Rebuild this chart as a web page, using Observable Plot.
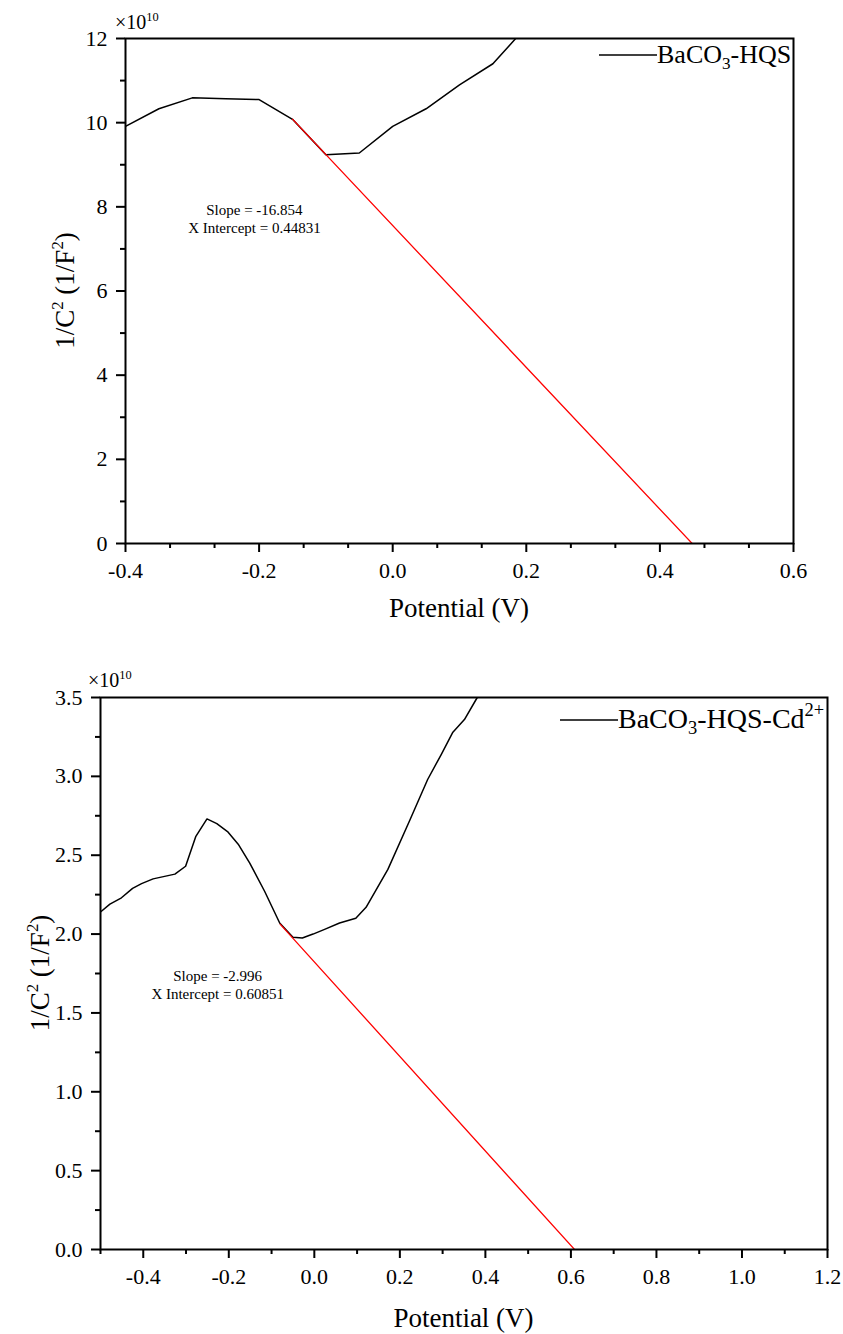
<!DOCTYPE html>
<html>
<head>
<meta charset="utf-8">
<script src="https://cdn.jsdelivr.net/npm/d3@7"></script>
<script src="https://cdn.jsdelivr.net/npm/@observablehq/plot@0.6"></script>
<style>
  html, body { margin: 0; padding: 0; background: #fff; }
  #chart svg { display: block; }
  #chart svg text { font-family: 'Liberation Serif', 'Times New Roman', Times, serif; }
</style>
</head>
<body>
<div id="chart"></div>
<script>
// ---------- Data: panel 1 (BaCO3-HQS) ----------
const potential1 = [-0.4, -0.35, -0.3, -0.25, -0.2, -0.15, -0.1, -0.05, 0.0, 0.05, 0.1, 0.15, 0.2];
const invC2_1    = [9.91, 10.33, 10.59, 10.57, 10.55, 10.08, 9.24, 9.28, 9.91, 10.33, 10.90, 11.40, 12.28];
const fit1Potential = [-0.15, 0.44831];
const fit1Value     = [10.084, 0];
const slope1 = "-16.854";
const intercept1 = "0.44831";
const legend1 = "BaCO_{3}-HQS";
const xTicks1 = [-0.4, -0.2, 0.0, 0.2, 0.4, 0.6];
const xMinor1 = [-0.3333, -0.2667, -0.1333, -0.0667, 0.0667, 0.1333, 0.2667, 0.3333, 0.4667, 0.5333];
const yTicks1 = [0, 2, 4, 6, 8, 10, 12];
const yMinor1 = [1, 3, 5, 7, 9, 11];

// ---------- Data: panel 2 (BaCO3-HQS-Cd2+) ----------
const potential2 = [-0.5, -0.478, -0.451, -0.425, -0.404, -0.377, -0.326, -0.301, -0.277, -0.251, -0.228, -0.203, -0.178, -0.151, -0.116, -0.081, -0.05, -0.028, -0.003, 0.024, 0.059, 0.097, 0.121, 0.172, 0.223, 0.265, 0.297, 0.324, 0.351, 0.381, 0.42];
const invC2_2    = [2.14, 2.19, 2.23, 2.29, 2.32, 2.35, 2.38, 2.43, 2.62, 2.73, 2.70, 2.65, 2.57, 2.45, 2.27, 2.07, 1.98, 1.975, 2.00, 2.03, 2.07, 2.10, 2.17, 2.41, 2.72, 2.98, 3.14, 3.28, 3.36, 3.50, 3.70];
const fit2Potential = [-0.08, 0.60851];
const fit2Value     = [2.063, 0];
const slope2 = "-2.996";
const intercept2 = "0.60851";
const legend2 = "BaCO_{3}-HQS-Cd^{2+}";
const xTicks2 = [-0.4, -0.2, 0.0, 0.2, 0.4, 0.6, 0.8, 1.0, 1.2];
const xMinor2 = [-0.5, -0.3, -0.1, 0.1, 0.3, 0.5, 0.7, 0.9, 1.1];
const yTicks2 = [0.0, 0.5, 1.0, 1.5, 2.0, 2.5, 3.0, 3.5];
const yMinor2 = [0.25, 0.75, 1.25, 1.75, 2.25, 2.75, 3.25];

const xTitle = "Potential (V)";
const yTitle = "1/C^{2} (1/F^{2})";
const scaleNote = "×10^{10}";

// ---------- helpers ----------
const FONT = "'Liberation Serif', 'Times New Roman', Times, serif";

function richText(sel, str, size, supScale = 0.62) {
  const re = /([_^])\{([^}]*)\}/g;
  const parts = [];
  let last = 0, m;
  while ((m = re.exec(str))) {
    if (m.index > last) parts.push({t: str.slice(last, m.index), k: 0});
    parts.push({t: m[2], k: m[1] === "^" ? 1 : -1});
    last = re.lastIndex;
  }
  if (last < str.length) parts.push({t: str.slice(last), k: 0});
  let cur = 0;
  for (const p of parts) {
    const off = p.k === 1 ? -0.42 * size : p.k === -1 ? 0.22 * size : 0;
    const ts = sel.append("tspan").text(p.t);
    if (off - cur !== 0) ts.attr("dy", off - cur);
    if (p.k) ts.attr("font-size", size * supScale);
    cur = off;
  }
}

function makeChart(cfg) {
  const curve = cfg.px.map((x, i) => ({x, y: cfg.py[i]}));
  const fit = cfg.fx.map((x, i) => ({x, y: cfg.fy[i]}));
  const annot = [{x: cfg.annot[0], y: cfg.annot[1], t: `Slope = ${cfg.slope}\nX Intercept = ${cfg.intercept}`}];
  const L = cfg.lay;
  return Plot.plot({
    width: 843,
    height: cfg.height,
    marginTop: cfg.m[0], marginRight: cfg.m[1], marginBottom: cfg.m[2], marginLeft: cfg.m[3],
    style: {fontFamily: FONT, background: "white", color: "black", overflow: "visible"},
    x: {domain: cfg.xd},
    y: {domain: cfg.yd},
    marks: [
      Plot.line(curve, {x: "x", y: "y", stroke: "black", strokeWidth: 1.5, clip: true}),
      Plot.line(fit, {x: "x", y: "y", stroke: "#ff0000", strokeWidth: 1.3, clip: true}),
      Plot.frame({stroke: "black", strokeWidth: 2}),
      Plot.axisX(cfg.xt, {tickSize: 9, tickPadding: 10, tickFormat: d => d.toFixed(1), fontSize: 22, fontFamily: FONT, strokeWidth: 2, label: null}),
      Plot.axisX(cfg.xm, {tickSize: 5, tickFormat: () => "", strokeWidth: 2, label: null}),
      Plot.axisY(cfg.yt, {tickSize: 9, tickPadding: 9, tickFormat: cfg.fy_fmt, fontSize: 22, fontFamily: FONT, strokeWidth: 2, label: null}),
      Plot.axisY(cfg.ym, {tickSize: 5, tickFormat: () => "", strokeWidth: 2, label: null}),
      Plot.text(annot, {x: "x", y: "y", text: "t", fontSize: 15, fontFamily: FONT, lineHeight: 1.2, fill: "black"}),
      (index, scales, values, dims) => {
        const {width, height, marginTop: mt, marginRight: mr, marginBottom: mb, marginLeft: ml} = dims;
        const R = width - mr;
        const B = height - mb;
        const g = d3.create("svg:g").attr("font-family", FONT).attr("fill", "black").attr("text-anchor", "start");
        // legend
        const lx = R - L.legendStart;
        g.append("line")
          .attr("x1", lx - 58).attr("x2", lx)
          .attr("y1", mt + L.legendBase - 8).attr("y2", mt + L.legendBase - 8)
          .attr("stroke", "black").attr("stroke-width", 1.5);
        richText(g.append("text").attr("x", lx).attr("y", mt + L.legendBase)
          .attr("text-anchor", "start").attr("font-size", L.legendSize), cfg.legend, L.legendSize, 0.66);
        // scale note
        richText(g.append("text").attr("x", ml - L.noteLeft).attr("y", mt - L.noteUp)
          .attr("text-anchor", "start").attr("font-size", 20), scaleNote, 20);
        // y title
        const cy = (mt + B) / 2;
        const yt = g.append("text")
          .attr("transform", `translate(${ml - 51},${cy}) rotate(-90)`)
          .attr("text-anchor", "middle").attr("font-size", 27);
        richText(yt, yTitle, 27);
        // x title
        g.append("text")
          .attr("x", (ml + R) / 2).attr("y", B + L.xTitleDown)
          .attr("text-anchor", "middle").attr("font-size", 27).text(xTitle);
        return g.node();
      }
    ]
  });
}

const chart = document.getElementById("chart");

chart.append(makeChart({
  height: 630, m: [38, 50, 87, 125],
  xd: [-0.4, 0.6], yd: [0, 12],
  px: potential1, py: invC2_1, fx: fit1Potential, fy: fit1Value,
  xt: xTicks1, xm: xMinor1, yt: yTicks1, ym: yMinor1,
  fy_fmt: d => String(d),
  slope: slope1, intercept: intercept1, annot: [-0.207, 7.73],
  legend: legend1,
  lay: {legendStart: 136, legendBase: 25, legendSize: 26, noteLeft: 10, noteUp: 9, xTitleDown: 74}
}));

chart.append(makeChart({
  height: 704, m: [67, 16, 85, 100],
  xd: [-0.5, 1.2], yd: [0, 3.5],
  px: potential2, py: invC2_2, fx: fit2Potential, fy: fit2Value,
  xt: xTicks2, xm: xMinor2, yt: yTicks2, ym: yMinor2,
  fy_fmt: d => d.toFixed(1),
  slope: slope2, intercept: intercept2, annot: [-0.226, 1.682],
  legend: legend2,
  lay: {legendStart: 209, legendBase: 31, legendSize: 28, noteLeft: 12, noteUp: 10, xTitleDown: 78}
}));
</script>
</body>
</html>
